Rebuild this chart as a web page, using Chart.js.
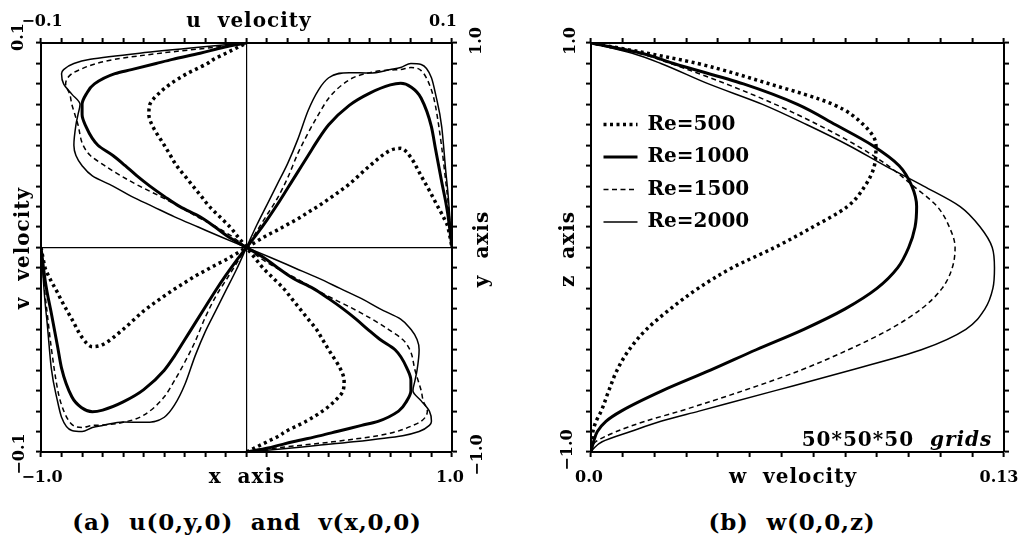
<!DOCTYPE html>
<html>
<head>
<meta charset="utf-8">
<script src="https://cdn.jsdelivr.net/npm/chart.js@4/dist/chart.umd.min.js"></script>
<style>
  body { margin: 0; background: #fff; }
  #page { position: relative; width: 1022px; height: 537px; overflow: hidden; background: #fff; }
  canvas { position: absolute; top: 0; }
  .t { position: absolute; font-family: 'DejaVu Serif', serif; font-weight: bold; color: #000;
       white-space: pre; line-height: 1; transform: translate(-50%, -50%); }
  .r { transform: translate(-50%, -50%) rotate(-90deg); }
  .s { font-size: 16px; }
  .a { font-size: 20px; letter-spacing: 1px; }
  .c { font-size: 23px; letter-spacing: 0.8px; }
</style>
</head>
<body>
<div id="page">
  <canvas id="graficoUV" width="500" height="500" style="left:0"></canvas>
  <canvas id="graficoW" width="482" height="500" style="left:540px"></canvas>

  <!-- textos panel (a) -->
  <div class="t s" style="left:42px;top:21px">−0.1</div>
  <div class="t s r" style="left:18px;top:37px">0.1</div>
  <div class="t a" style="left:249px;top:20px">u  velocity</div>
  <div class="t s" style="left:443px;top:21px">0.1</div>
  <div class="t s r" style="left:476px;top:41px">1.0</div>
  <div class="t a r" style="left:22px;top:248px">v  velocity</div>
  <div class="t a r" style="left:481px;top:249px">y  axis</div>
  <div class="t s r" style="left:19px;top:454px">−0.1</div>
  <div class="t s" style="left:42px;top:477px">−1.0</div>
  <div class="t a" style="left:247px;top:476px">x  axis</div>
  <div class="t s" style="left:450px;top:477px">1.0</div>
  <div class="t s r" style="left:477px;top:455px">−1.0</div>
  <div class="t c" style="left:247px;top:521px">(a)  u(0,y,0)  and  v(x,0,0)</div>

  <!-- textos panel (b) -->
  <div class="t s r" style="left:570px;top:41px">1.0</div>
  <div class="t a r" style="left:567px;top:249px">z  axis</div>
  <div class="t s r" style="left:567px;top:450px">−1.0</div>
  <div class="t s" style="left:589px;top:477px">0.0</div>
  <div class="t a" style="left:793px;top:476px">w  velocity</div>
  <div class="t s" style="left:999px;top:477px">0.13</div>
  <div class="t c" style="left:792px;top:521px">(b)  w(0,0,z)</div>
  <div class="t a" style="left:897px;top:439px">50*50*50  <i>grids</i></div>
</div>
<script>
// Series (Reynolds)
const etiquetasRe = ['Re=500', 'Re=1000', 'Re=1500', 'Re=2000'];

// u(0,y,0): posiciones y
const yPerfilU = [-1, -0.98, -0.95, -0.92, -0.9, -0.87, -0.85, -0.8, -0.75, -0.7, -0.65, -0.6, -0.5, -0.45,
  -0.4, -0.35, -0.3, -0.25, -0.2, -0.15, -0.1, -0.05, 0, 0.05, 0.1, 0.15, 0.2, 0.25, 0.3, 0.35, 0.4, 0.45,
  0.5, 0.6, 0.65, 0.7, 0.75, 0.8, 0.85, 0.87, 0.9, 0.92, 0.95, 0.98, 1];
const uRe500 = [0, 0.004, 0.010, 0.016, 0.019, 0.025, 0.029, 0.037, 0.043, 0.047, 0.0475, 0.046, 0.040, 0.037,
  0.034, 0.030, 0.026, 0.022, 0.018, 0.013, 0.008, 0.004, 0, -0.004, -0.008, -0.013, -0.018, -0.022, -0.026,
  -0.030, -0.034, -0.037, -0.040, -0.046, -0.0475, -0.047, -0.043, -0.037, -0.029, -0.025, -0.019, -0.016,
  -0.010, -0.004, 0];
const uRe1000 = [0, 0.0105, 0.0226, 0.036, 0.044, 0.056, 0.064, 0.074, 0.078, 0.080, 0.080, 0.0785, 0.0723,
  0.065, 0.059, 0.0533, 0.047, 0.040, 0.0324, 0.0226, 0.0153, 0.0085, 0, -0.0085, -0.0153, -0.0226, -0.0324,
  -0.040, -0.047, -0.0533, -0.059, -0.065, -0.0723, -0.0785, -0.080, -0.080, -0.078, -0.074, -0.064, -0.056,
  -0.044, -0.036, -0.0226, -0.0105, 0];
const uRe1500 = [0, 0.015, 0.042, 0.064, 0.073, 0.081, 0.085, 0.088, 0.086, 0.085, 0.0835, 0.082, 0.0795,
  0.076, 0.069, 0.061, 0.052, 0.042, 0.0326, 0.024, 0.0145, 0.0065, 0, -0.0065, -0.0145, -0.024, -0.0326,
  -0.042, -0.052, -0.061, -0.069, -0.076, -0.0795, -0.082, -0.0835, -0.085, -0.086, -0.088, -0.085, -0.081,
  -0.073, -0.064, -0.042, -0.015, 0];
const uRe2000 = [0, 0.022, 0.052, 0.076, 0.084, 0.089, 0.090, 0.089, 0.085, 0.081, 0.082, 0.083, 0.084,
  0.083, 0.080, 0.075, 0.065, 0.056, 0.0455, 0.035, 0.0235, 0.012, 0, -0.012, -0.0235, -0.035, -0.0455,
  -0.056, -0.065, -0.075, -0.080, -0.083, -0.084, -0.083, -0.082, -0.081, -0.085, -0.089, -0.090, -0.089,
  -0.084, -0.076, -0.052, -0.022, 0];

// v(x,0,0): posiciones x
const xPerfilV = [-1, -0.98, -0.97, -0.95, -0.92, -0.9, -0.85, -0.8, -0.75, -0.7, -0.6, -0.5, -0.4, -0.35,
  -0.3, -0.25, -0.2, -0.15, -0.1, -0.05, 0, 0.05, 0.1, 0.15, 0.2, 0.25, 0.3, 0.35, 0.4, 0.5, 0.6, 0.7, 0.75,
  0.8, 0.85, 0.9, 0.92, 0.95, 0.97, 0.98, 1];
const vRe500 = [0, -0.010, -0.0125, -0.0165, -0.022, -0.026, -0.035, -0.044, -0.0485, -0.0475, -0.040, -0.031,
  -0.0237, -0.0203, -0.0172, -0.014, -0.0113, -0.0085, -0.006, -0.003, 0, 0.003, 0.006, 0.0085, 0.0113, 0.014,
  0.0172, 0.0203, 0.0237, 0.031, 0.040, 0.0475, 0.0485, 0.044, 0.035, 0.026, 0.022, 0.0165, 0.0125, 0.010, 0];
const vRe1000 = [0, -0.016, -0.022, -0.032, -0.048, -0.059, -0.073, -0.0785, -0.0803, -0.0795, -0.0755, -0.0695,
  -0.060, -0.053, -0.045, -0.037, -0.029, -0.021, -0.0135, -0.0065, 0, 0.0065, 0.0135, 0.021, 0.029, 0.037,
  0.045, 0.053, 0.060, 0.0695, 0.0755, 0.0795, 0.0803, 0.0785, 0.073, 0.059, 0.048, 0.032, 0.022, 0.016, 0];
const vRe1500 = [0, -0.023, -0.032, -0.049, -0.069, -0.077, -0.0865, -0.088, -0.087, -0.0868, -0.0855, -0.082,
  -0.073, -0.065, -0.056, -0.046, -0.034, -0.024, -0.016, -0.008, 0, 0.008, 0.016, 0.024, 0.034, 0.046,
  0.056, 0.065, 0.073, 0.082, 0.0855, 0.0868, 0.087, 0.088, 0.0865, 0.077, 0.069, 0.049, 0.032, 0.023, 0];
const vRe2000 = [0, -0.027, -0.037, -0.059, -0.075, -0.083, -0.0895, -0.090, -0.088, -0.087, -0.0853, -0.0855,
  -0.083, -0.077, -0.067, -0.053, -0.041, -0.031, -0.021, -0.011, 0, 0.011, 0.021, 0.031, 0.041, 0.053,
  0.067, 0.077, 0.083, 0.0855, 0.0853, 0.087, 0.088, 0.090, 0.0895, 0.083, 0.075, 0.059, 0.037, 0.027, 0];

// w(0,0,z): posiciones z
const zPerfilW = [-1, -0.98, -0.95, -0.9, -0.85, -0.8, -0.7, -0.6, -0.5, -0.4, -0.3, -0.2, -0.1, 0,
  0.1, 0.2, 0.3, 0.4, 0.5, 0.6, 0.7, 0.8, 0.9, 0.95, 1];
const wRe500 = [0, 0.0001, 0.0003, 0.0006, 0.0016, 0.0032, 0.0056, 0.0082, 0.012, 0.0175, 0.025, 0.0337,
  0.0443, 0.0578, 0.0698, 0.0807, 0.0862, 0.0892, 0.0897, 0.0858, 0.0762, 0.0562, 0.0335, 0.0177, 0];
const wRe1000 = [0, 0.0003, 0.0008, 0.002, 0.0047, 0.0095, 0.0225, 0.0376, 0.052, 0.067, 0.080, 0.090,
  0.0965, 0.100, 0.102, 0.1025, 0.101, 0.097, 0.0885, 0.077, 0.065, 0.048, 0.026, 0.016, 0];
const wRe1500 = [0, 0.0003, 0.0015, 0.008, 0.017, 0.028, 0.048, 0.066, 0.081, 0.094, 0.104, 0.1105,
  0.1137, 0.1146, 0.1128, 0.109, 0.1015, 0.0935, 0.0835, 0.0715, 0.058, 0.0425, 0.025, 0.015, 0];
const wRe2000 = [0, 0.001, 0.0035, 0.0125, 0.022, 0.034, 0.058, 0.0817, 0.104, 0.118, 0.124, 0.1265,
  0.127, 0.1263, 0.1225, 0.1162, 0.1047, 0.0925, 0.081, 0.068, 0.054, 0.037, 0.022, 0.013, 0];

// estilos de linea por serie
const estilos = [
  { borderWidth: 3.5, borderDash: [3, 3.5] },
  { borderWidth: 3, borderDash: [] },
  { borderWidth: 1.5, borderDash: [5, 3.5] },
  { borderWidth: 1.5, borderDash: [] }
];

function puntos(xs, ys) {
  return xs.map((x, i) => ({ x: x, y: ys[i] }));
}

// ejeIndice: 'x' si la curva es funcion de x, 'y' si es funcion de y
function serie(i, data, ejeX, ejeY, ejeIndice) {
  return {
    label: etiquetasRe[i],
    data: data,
    xAxisID: ejeX,
    yAxisID: ejeY,
    indexAxis: ejeIndice,
    cubicInterpolationMode: 'monotone',
    fill: false,
    pointRadius: 0,
    borderColor: '#000',
    backgroundColor: '#000',
    borderCapStyle: 'butt',
    borderJoinStyle: 'round',
    borderWidth: estilos[i].borderWidth,
    borderDash: estilos[i].borderDash
  };
}

// escala lineal con marcas hacia afuera y linea de cero opcional
function escala(pos, min, max, paso, lineaCero) {
  return {
    type: 'linear',
    position: pos,
    min: min,
    max: max,
    ticks: { display: false, stepSize: paso },
    grid: {
      drawOnChartArea: lineaCero,
      color: ctx => (lineaCero && ctx.tick && Math.abs(ctx.tick.value) < 1e-9) ? '#000' : 'rgba(0,0,0,0)',
      lineWidth: 1.2,
      tickLength: 5,
      tickColor: '#000',
      tickWidth: 2
    },
    border: { display: true, color: '#000', width: 2 },
    afterFit: s => { if (s.isHorizontal()) s.height = 8; else s.width = 8; }
  };
}

// grafico (a): u y v
const dsV = [vRe500, vRe1000, vRe1500, vRe2000].map((v, i) => serie(i, puntos(xPerfilV, v), 'x', 'yv', 'x'));
const dsU = [uRe500, uRe1000, uRe1500, uRe2000].map((u, i) => serie(i, puntos(u, yPerfilU), 'xu', 'y', 'y'));

new Chart(document.getElementById('graficoUV'), {
  type: 'line',
  data: { datasets: dsV.concat(dsU) },
  options: {
    responsive: false,
    animation: false,
    events: [],
    layout: { padding: { left: 33, top: 35, right: 40, bottom: 40 } },
    plugins: { legend: { display: false }, tooltip: { enabled: false } },
    scales: {
      x: escala('bottom', -1, 1, 0.1, true),
      xu: escala('top', -0.1, 0.1, 0.01, false),
      yv: escala('left', -0.1, 0.1, 0.01, false),
      y: escala('right', -1, 1, 0.1, true)
    }
  }
});

// grafico (b): w
const dsW = [wRe500, wRe1000, wRe1500, wRe2000].map((w, i) => serie(i, puntos(w, zPerfilW), 'x', 'y', 'y'));

new Chart(document.getElementById('graficoW'), {
  type: 'line',
  data: { datasets: dsW },
  options: {
    responsive: false,
    animation: false,
    events: [],
    layout: { padding: { left: 43, top: 35, right: 10, bottom: 40 } },
    plugins: {
      tooltip: { enabled: false },
      legend: {
        position: 'chartArea',
        align: 'start',
        title: { display: true, text: ' ', font: { size: 10, lineHeight: 1 }, padding: { top: 92, bottom: 0 } },
        labels: {
          usePointStyle: true,
          pointStyle: 'line',
          pointStyleWidth: 34,
          padding: 12.5,
          color: '#000',
          font: { family: 'DejaVu Serif', weight: 'bold', size: 20 },
          generateLabels: chart => chart.data.datasets.map((ds, i) => ({
            text: ds.label,
            datasetIndex: i,
            hidden: false,
            fillStyle: '#000',
            strokeStyle: '#000',
            fontColor: '#000',
            lineWidth: ds.borderWidth,
            lineDash: ds.borderDash,
            lineCap: 'butt',
            pointStyle: 'line'
          }))
        }
      }
    },
    scales: {
      x: escala('bottom', 0, 0.13, 0.01, false),
      xt: escala('top', 0, 0.13, 0.01, false),
      y: escala('left', -1, 1, 0.1, false),
      yd: escala('right', -1, 1, 0.1, false)
    }
  }
});
</script>
</body>
</html>
